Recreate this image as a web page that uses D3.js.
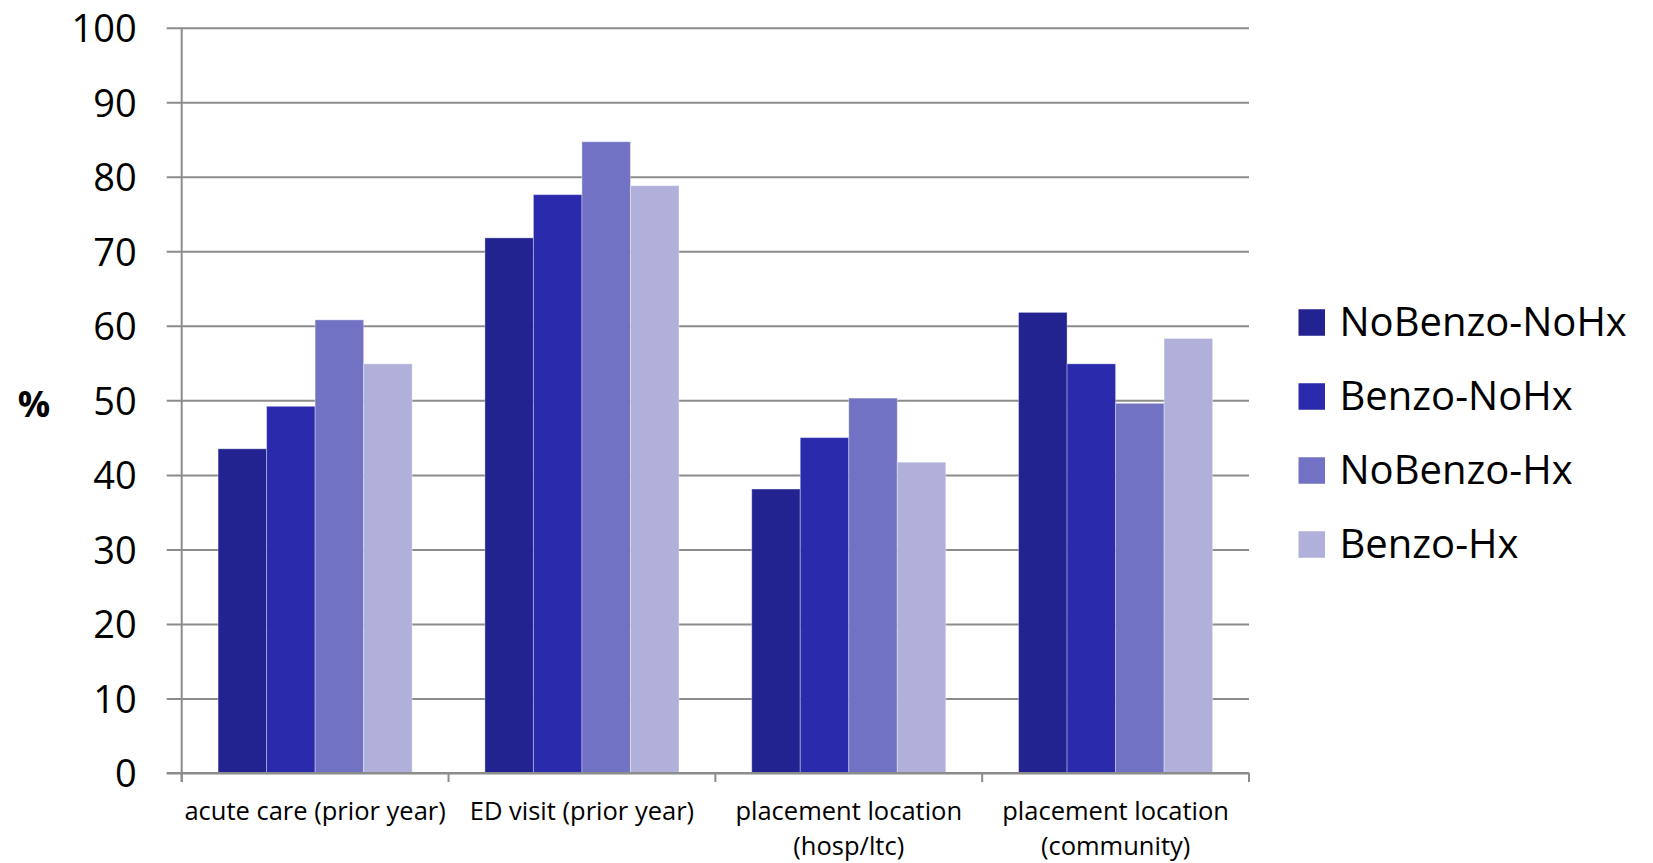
<!DOCTYPE html>
<html>
<head>
<meta charset="utf-8">
<script src="https://cdn.jsdelivr.net/npm/d3@7"></script>
<style>
  html, body { margin: 0; padding: 0; background: #ffffff; }
  svg { display: block; }
  text { font-family: "Open Sans", "Noto Sans", sans-serif; fill: #000; }
</style>
</head>
<body>
<svg id="chart" width="1653" height="863"></svg>
<script>
// Outcome categories (two-line labels where needed)
const categories = [
  "acute care (prior year)",
  "ED visit (prior year)",
  "placement location (hosp/ltc)",
  "placement location (community)"
];
const categoryLines = [
  ["acute care (prior year)"],
  ["ED visit (prior year)"],
  ["placement location", "(hosp/ltc)"],
  ["placement location", "(community)"]
];

// Groups shown in the legend
const seriesNames = ["NoBenzo-NoHx", "Benzo-NoHx", "NoBenzo-Hx", "Benzo-Hx"];

// Percentages per group, one entry per category
const noBenzoNoHx = [43.5, 71.8, 38.1, 61.8];
const benzoNoHx   = [49.2, 77.6, 45.0, 54.9];
const noBenzoHx   = [60.8, 84.7, 50.3, 49.6];
const benzoHx     = [54.9, 78.8, 41.7, 58.3];

const yTicks = [0, 10, 20, 30, 40, 50, 60, 70, 80, 90, 100];
const seriesColors = ["#222290", "#2a2aad", "#7172c3", "#b0b0da"];

const seriesValues = [noBenzoNoHx, benzoNoHx, noBenzoHx, benzoHx];

const svg = d3.select("#chart");

// Plot frame
const plotLeft = 181.7, plotRight = 1249, plotTop = 27.7, plotBottom = 773;
const gridStart = 166.7;

const x = d3.scaleBand()
  .domain(categories)
  .range([plotLeft, plotRight])
  .paddingInner(0).paddingOuter(0);

const x1 = d3.scaleBand()
  .domain(seriesNames)
  .range([0, x.bandwidth()])
  .paddingInner(0)
  .paddingOuter(0.75);

const y = d3.scaleLinear().domain([0, 100]).range([plotBottom, plotTop]);

const color = d3.scaleOrdinal().domain(seriesNames).range(seriesColors);

// Horizontal gridlines (they start a little left of the value axis)
const grid = svg.append("g")
  .attr("transform", `translate(${gridStart},0)`)
  .call(d3.axisRight(y).tickValues(yTicks).tickSize(plotRight - gridStart).tickFormat(""));
grid.select(".domain").remove();
grid.selectAll(".tick line").attr("stroke", "#8c8c8c").attr("stroke-width", 2);

// Value-axis labels
const yLab = svg.append("g")
  .attr("transform", `translate(${gridStart},0)`)
  .call(d3.axisLeft(y).tickValues(yTicks).tickSize(0).tickPadding(30).tickFormat(d3.format("d")));
yLab.select(".domain").remove();
yLab.selectAll("text")
  .attr("font-size", 38)
  .attr("dy", 13.8)
  .attr("fill", "#000");

// Value-axis line
svg.append("line")
  .attr("x1", plotLeft).attr("x2", plotLeft)
  .attr("y1", plotTop).attr("y2", plotBottom + 9)
  .attr("stroke", "#8c8c8c").attr("stroke-width", 2);

// Bars
const groups = svg.append("g").selectAll("g")
  .data(categories)
  .join("g")
  .attr("transform", d => `translate(${x(d)},0)`);

groups.selectAll("rect")
  .data((d, i) => seriesNames.map((s, j) => ({ series: s, value: seriesValues[j][i] })))
  .join("rect")
  .attr("x", d => x1(d.series))
  .attr("width", x1.bandwidth())
  .attr("y", d => y(d.value))
  .attr("height", d => y(0) - y(d.value))
  .attr("fill", d => color(d.series))
  .attr("stroke", "rgba(255,255,255,0.35)")
  .attr("stroke-width", 1);

// Category axis line and boundary ticks
svg.append("line")
  .attr("x1", gridStart).attr("x2", plotRight)
  .attr("y1", y(0)).attr("y2", y(0))
  .attr("stroke", "#8c8c8c").attr("stroke-width", 2);

const boundaries = categories.map(c => x(c)).concat([x(categories[categories.length - 1]) + x.bandwidth()]);
svg.append("g").selectAll("line")
  .data(boundaries)
  .join("line")
  .attr("x1", d => d).attr("x2", d => d)
  .attr("y1", y(0)).attr("y2", y(0) + 9)
  .attr("stroke", "#8c8c8c").attr("stroke-width", 2);

// Category labels
const catLabels = svg.append("g").selectAll("text")
  .data(categories)
  .join("text")
  .attr("text-anchor", "middle")
  .attr("font-size", 25.5)
  .attr("x", d => x(d) + x.bandwidth() / 2)
  .attr("y", 820);
catLabels.each(function (d, i) {
  d3.select(this).selectAll("tspan")
    .data(categoryLines[i])
    .join("tspan")
    .attr("x", x(d) + x.bandwidth() / 2)
    .attr("dy", (t, k) => k === 0 ? 0 : 35)
    .text(t => t);
});

// Axis title
svg.append("text")
  .attr("x", 34).attr("y", 403)
  .attr("text-anchor", "middle")
  .attr("dominant-baseline", "central")
  .attr("font-size", 36)
  .attr("font-weight", "bold")
  .text("%");

// Legend
const legend = svg.append("g").attr("transform", "translate(1298.5,0)");
const legendRows = legend.selectAll("g")
  .data(seriesNames)
  .join("g")
  .attr("transform", (d, i) => `translate(0,${322.5 + i * 74})`);
legendRows.append("rect")
  .attr("x", 0).attr("y", -13.25)
  .attr("width", 26.5).attr("height", 26.5)
  .attr("fill", d => color(d));
legendRows.append("text")
  .attr("x", 41).attr("y", 13)
  .attr("font-size", 40)
  .text(d => d);
</script>
</body>
</html>
